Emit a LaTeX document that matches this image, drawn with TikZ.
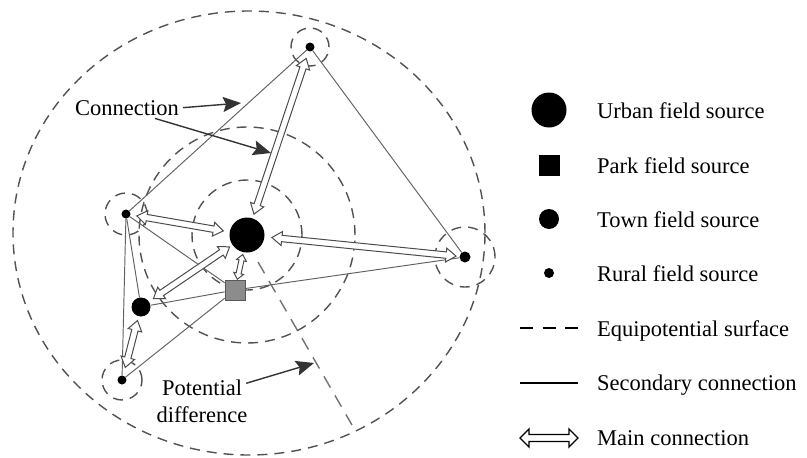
\documentclass[tikz,border=0pt]{standalone}
\usepackage{fontspec}
\setmainfont{Liberation Serif}
\usetikzlibrary{calc,arrows.meta}

\pgfdeclarelayer{laypaper}
\pgfdeclarelayer{layequi}
\pgfdeclarelayer{laysecond}
\pgfdeclarelayer{layprimary}
\pgfsetlayers{laypaper,layequi,laysecond,layprimary,main}

% sizes of the hollow double-headed arrow
\newcommand\mlhead{10pt}
\newcommand\mlwing{7pt}
\newcommand\mlshaft{3.2pt}
% main connection: hollow double-headed arrow between two nodes
% #1 extra style, #2/#3 node names, #4/#5 gaps from the node centres
\newcommand\mainlink[5][]{%
  \coordinate (ml-a) at ($(#2)!#4!(#3)$);
  \coordinate (ml-b) at ($(#3)!#5!(#2)$);
  \coordinate (ml-a1) at ($(ml-a)!\mlhead!(ml-b)$);
  \coordinate (ml-b1) at ($(ml-b)!\mlhead!(ml-a)$);
  \filldraw[mainconn,#1] (ml-a)
    -- ($(ml-a1)!\mlwing!90:(ml-b)$) -- ($(ml-a1)!\mlshaft!90:(ml-b)$)
    -- ($(ml-b1)!\mlshaft!-90:(ml-a)$) -- ($(ml-b1)!\mlwing!-90:(ml-a)$)
    -- (ml-b)
    -- ($(ml-b1)!\mlwing!90:(ml-a)$) -- ($(ml-b1)!\mlshaft!90:(ml-a)$)
    -- ($(ml-a1)!\mlshaft!-90:(ml-b)$) -- ($(ml-a1)!\mlwing!-90:(ml-b)$)
    -- cycle;}

\tikzset{
  equi/.style={draw=black!68, line width=1.4pt, dash pattern=on 10pt off 7pt},
  secline/.style={draw=black!62, line width=0.95pt},
  mainconn/.style={draw=black!70, line width=1pt, fill=white, line join=miter},
  urbansrc/.style={circle, fill=black, minimum size=35pt, inner sep=0pt},
  parksrc/.style={rectangle, fill=black!45, draw=black!65, line width=0.8pt, minimum size=20pt, inner sep=0pt},
  townsrc/.style={circle, fill=black, minimum size=19pt, inner sep=0pt},
  ruralsrc/.style={circle, fill=black, minimum size=9pt, inner sep=0pt},
  lbl/.style={font=\fontsize{22.5}{27}\selectfont, inner sep=0pt},
  note/.style={draw=black!80, line width=1.4pt, -{Stealth[length=18pt,width=15pt,inset=3pt]}},
}

\begin{document}
\begin{tikzpicture}[x=1pt, y=-1pt]
\useasboundingbox (0,0) rectangle (807,458);
\begin{pgfonlayer}{laypaper}
  \fill[white] (0,0) rectangle (807,458);
\end{pgfonlayer}

% field sources
\node[urbansrc] (U) at (247,235) {};
\node[parksrc] (P) at (235,290) {};
\node[townsrc] (T) at (141,307) {};
\node[ruralsrc] (R1) at (310,47) {};
\node[ruralsrc] (R2) at (126,214) {};
\node[ruralsrc, minimum size=11pt] (R3) at (465,257) {};
\node[ruralsrc] (R4) at (122,380) {};

% equipotential surfaces
\begin{pgfonlayer}{layequi}
  \draw[equi] (249,233) ellipse[x radius=236pt, y radius=222pt];
  \draw[equi] (U) circle[radius=108pt];
  \draw[equi] (U) circle[radius=55pt];
  \draw[equi] (R1) circle[radius=19pt];
  \draw[equi] (R2) circle[radius=21pt];
  \draw[equi] (R3) circle[radius=30pt];
  \draw[equi] (R4) circle[radius=20pt];
  \coordinate (q1) at (258,262);
  \coordinate (q2) at (352,425);
  \draw[equi, draw=black!55, dash pattern=on 13pt off 9pt] (q1) -- (q2);
\end{pgfonlayer}

% secondary connections
\begin{pgfonlayer}{laysecond}
  \draw[secline] (R2) -- (R1);
  \draw[secline] (R1) -- (R3);
  \draw[secline] (R3) -- (P);
  \draw[secline] (R2) -- (R4);
  \draw[secline] (R2) -- (T);
  \draw[secline] (R2) -- (P);
  \draw[secline] (T) -- (P);
  \draw[secline] (R4) -- (P);
\end{pgfonlayer}

% main connections
\begin{pgfonlayer}{layprimary}
  \mainlink{R1}{U}{12pt}{22pt}
  \mainlink{R2}{U}{11pt}{24pt}
  \mainlink{R3}{U}{9pt}{25pt}
  \mainlink{T}{U}{15pt}{21pt}
  \mainlink{T}{R4}{14pt}{13pt}
  \begin{scope}
    \renewcommand\mlhead{6pt}\renewcommand\mlwing{5pt}\renewcommand\mlshaft{2.5pt}
    \mainlink{U}{P}{20pt}{11pt}
  \end{scope}
\end{pgfonlayer}

% annotations
\node[lbl, anchor=base] (conn) at (127,115) {Connection};
\coordinate (c1) at (241,103);
\coordinate (c2) at (271,153);
\draw[note] ([xshift=4pt]conn.east) -- (c1);
\draw[note] ([shift={(28pt,-3pt)}]conn.south) -- (c2);
\node[lbl, anchor=base] (pd1) at (202,395) {Potential};
\node[lbl, anchor=base] (pd2) at (202,422) {difference};
\coordinate (c3) at (314,363);
\draw[note] ([shift={(4pt,4pt)}]pd1.east) -- (c3);

% legend
\node[urbansrc] (lgU) at (549,110) {};
\node[lbl, anchor=base west] (tU) at (597,118) {Urban field source};
\node[parksrc, fill=black, draw=black] (lgP) at (549,165) {};
\node[lbl, anchor=base west] (tP) at (597,173) {Park field source};
\node[townsrc, minimum size=20pt] (lgT) at (549,219) {};
\node[lbl, anchor=base west] (tT) at (597,227) {Town field source};
\node[ruralsrc, minimum size=10pt] (lgR) at (549,273) {};
\node[lbl, anchor=base west] (tR) at (597,281) {Rural field source};
\coordinate (lgE1) at (520,328);
\coordinate (lgE2) at (578,328);
\draw[black, line width=1.6pt, dash pattern=on 13pt off 9.5pt] (lgE1) -- (lgE2);
\node[lbl, anchor=base west] (tE) at (597,336) {Equipotential surface};
\coordinate (lgS1) at (520,383);
\coordinate (lgS2) at (578,383);
\draw[black, line width=1.8pt] (lgS1) -- (lgS2);
\node[lbl, anchor=base west] (tS) at (597,390) {Secondary connection};
\coordinate (lgM1) at (520,438);
\coordinate (lgM2) at (578,438);
\begin{scope}
  \renewcommand\mlhead{9pt}\renewcommand\mlwing{9pt}\renewcommand\mlshaft{3.5pt}
  \mainlink[draw=black, line width=1.3pt]{lgM1}{lgM2}{0pt}{0pt}
\end{scope}
\node[lbl, anchor=base west] (tM) at (597,445) {Main connection};
\end{tikzpicture}
\end{document}
